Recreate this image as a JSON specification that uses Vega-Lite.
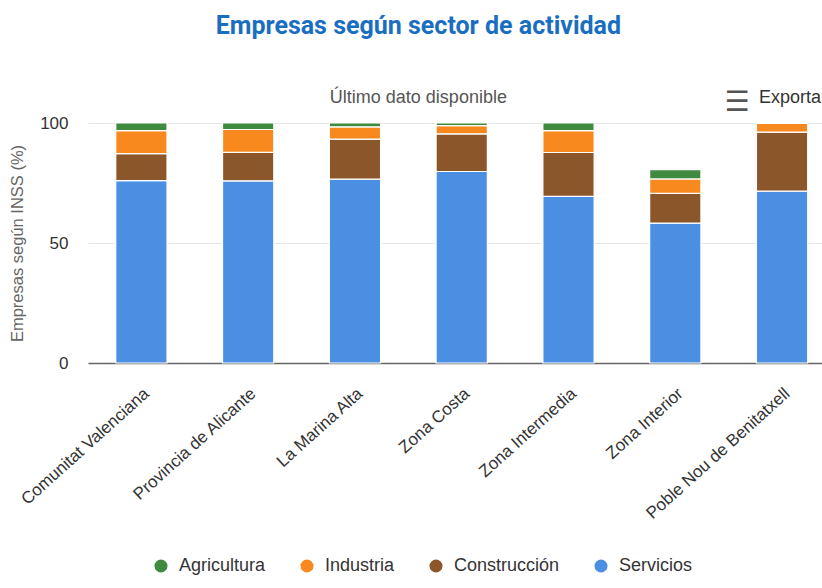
{
  "$schema": "https://vega.github.io/schema/vega-lite/v6.json",
  "width": 734,
  "height": 240,
  "autosize": {"type": "none"},
  "padding": {"left": 88, "top": 123, "right": 0, "bottom": 225},
  "background": "white",
  "config": {"view": {"stroke": null}},
  "title": {
    "text": "Empresas según sector de actividad",
    "subtitle": "Último dato disponible",
    "anchor": "middle",
    "frame": "bounds",
    "font": "Roboto",
    "fontSize": 25,
    "fontWeight": "bold",
    "color": "#1a6ec2",
    "subtitleFont": "Liberation Sans",
    "subtitleFontSize": 18,
    "subtitleColor": "#555",
    "subtitlePadding": 50,
    "offset": -18
  },
  "layer": [
    {
      "data": {
        "values": [
          {"zona": "Comunitat Valenciana", "sector": "Servicios", "valor": 76.0},
          {"zona": "Comunitat Valenciana", "sector": "Construcción", "valor": 11.2},
          {"zona": "Comunitat Valenciana", "sector": "Industria", "valor": 9.6},
          {"zona": "Comunitat Valenciana", "sector": "Agricultura", "valor": 3.2},
          {"zona": "Provincia de Alicante", "sector": "Servicios", "valor": 75.9},
          {"zona": "Provincia de Alicante", "sector": "Construcción", "valor": 11.9},
          {"zona": "Provincia de Alicante", "sector": "Industria", "valor": 9.5},
          {"zona": "Provincia de Alicante", "sector": "Agricultura", "valor": 2.7},
          {"zona": "La Marina Alta", "sector": "Servicios", "valor": 76.6},
          {"zona": "La Marina Alta", "sector": "Construcción", "valor": 16.7},
          {"zona": "La Marina Alta", "sector": "Industria", "valor": 5.1},
          {"zona": "La Marina Alta", "sector": "Agricultura", "valor": 1.6},
          {"zona": "Zona Costa", "sector": "Servicios", "valor": 79.8},
          {"zona": "Zona Costa", "sector": "Construcción", "valor": 15.7},
          {"zona": "Zona Costa", "sector": "Industria", "valor": 3.4},
          {"zona": "Zona Costa", "sector": "Agricultura", "valor": 1.1},
          {"zona": "Zona Intermedia", "sector": "Servicios", "valor": 69.4},
          {"zona": "Zona Intermedia", "sector": "Construcción", "valor": 18.3},
          {"zona": "Zona Intermedia", "sector": "Industria", "valor": 9.1},
          {"zona": "Zona Intermedia", "sector": "Agricultura", "valor": 3.2},
          {"zona": "Zona Interior", "sector": "Servicios", "valor": 58.3},
          {"zona": "Zona Interior", "sector": "Construcción", "valor": 12.4},
          {"zona": "Zona Interior", "sector": "Industria", "valor": 6.0},
          {"zona": "Zona Interior", "sector": "Agricultura", "valor": 3.9},
          {"zona": "Poble Nou de Benitatxell", "sector": "Servicios", "valor": 71.6},
          {"zona": "Poble Nou de Benitatxell", "sector": "Construcción", "valor": 24.6},
          {"zona": "Poble Nou de Benitatxell", "sector": "Industria", "valor": 3.6},
          {"zona": "Poble Nou de Benitatxell", "sector": "Agricultura", "valor": 0.2}
        ]
      },
      "transform": [
        {"calculate": "indexof(['Servicios','Construcción','Industria','Agricultura'], datum.sector)", "as": "orden"}
      ],
      "mark": {"type": "bar", "stroke": "white", "strokeWidth": 1.2},
      "encoding": {
        "x": {
          "field": "zona",
          "type": "nominal",
          "sort": null,
          "scale": {
            "domain": ["Comunitat Valenciana", "Provincia de Alicante", "La Marina Alta", "Zona Costa", "Zona Intermedia", "Zona Interior", "Poble Nou de Benitatxell"],
            "paddingInner": 0.52,
            "paddingOuter": 0.197,
            "align": 0.66
          },
          "axis": {
            "title": null,
            "labelAngle": -42,
            "labelFontSize": 17,
            "labelFont": "Liberation Sans",
            "labelColor": "#333",
            "ticks": false,
            "domainColor": "#666",
            "domainWidth": 1.5,
            "labelPadding": 22,
            "labelLimit": 400
          }
        },
        "y": {
          "field": "valor",
          "type": "quantitative",
          "stack": "zero",
          "scale": {"domain": [0, 100]},
          "axis": {
            "title": "Empresas según INSS (%)",
            "values": [0, 50, 100],
            "grid": true,
            "gridColor": "#e6e6e6",
            "domain": false,
            "ticks": false,
            "labelFontSize": 17,
            "labelFont": "Liberation Sans",
            "labelColor": "#333",
            "labelPadding": 20,
            "titleFontSize": 16.5,
            "titleFont": "Liberation Sans",
            "titleFontWeight": "normal",
            "titleColor": "#666",
            "titlePadding": 14
          }
        },
        "color": {
          "field": "sector",
          "type": "nominal",
          "scale": {
            "domain": ["Agricultura", "Industria", "Construcción", "Servicios"],
            "range": ["#3f8a3f", "#f7891f", "#8c562b", "#4a8fe2"]
          },
          "legend": {
            "orient": "none",
            "legendX": 64,
            "legendY": 434,
            "direction": "horizontal",
            "title": null,
            "symbolType": "circle",
            "symbolSize": 170,
            "symbolStrokeWidth": 0,
            "labelFontSize": 18,
            "labelFont": "Liberation Sans",
            "labelColor": "#333",
            "columnPadding": 32,
            "labelOffset": 9
          }
        },
        "order": {"field": "orden", "type": "quantitative"}
      }
    },
    {
      "data": {"values": [{"zona": "Poble Nou de Benitatxell", "valor": 108.3, "texto": "Exportar", "icono": "☰"}]},
      "layer": [
        {
          "mark": {"type": "text", "clip": false, "font": "DejaVu Sans", "fontSize": 28, "fontWeight": "bold", "color": "#555", "align": "center", "baseline": "middle", "dx": -45},
          "encoding": {
            "x": {"field": "zona", "type": "nominal"},
            "y": {"field": "valor", "type": "quantitative"},
            "text": {"field": "icono"}
          }
        },
        {
          "mark": {"type": "text", "clip": false, "font": "Liberation Sans", "fontSize": 18, "color": "#333", "align": "left", "baseline": "alphabetic", "dx": -23},
          "encoding": {
            "x": {"field": "zona", "type": "nominal"},
            "y": {"field": "valor", "type": "quantitative"},
            "text": {"field": "texto"}
          }
        }
      ]
    }
  ]
}
